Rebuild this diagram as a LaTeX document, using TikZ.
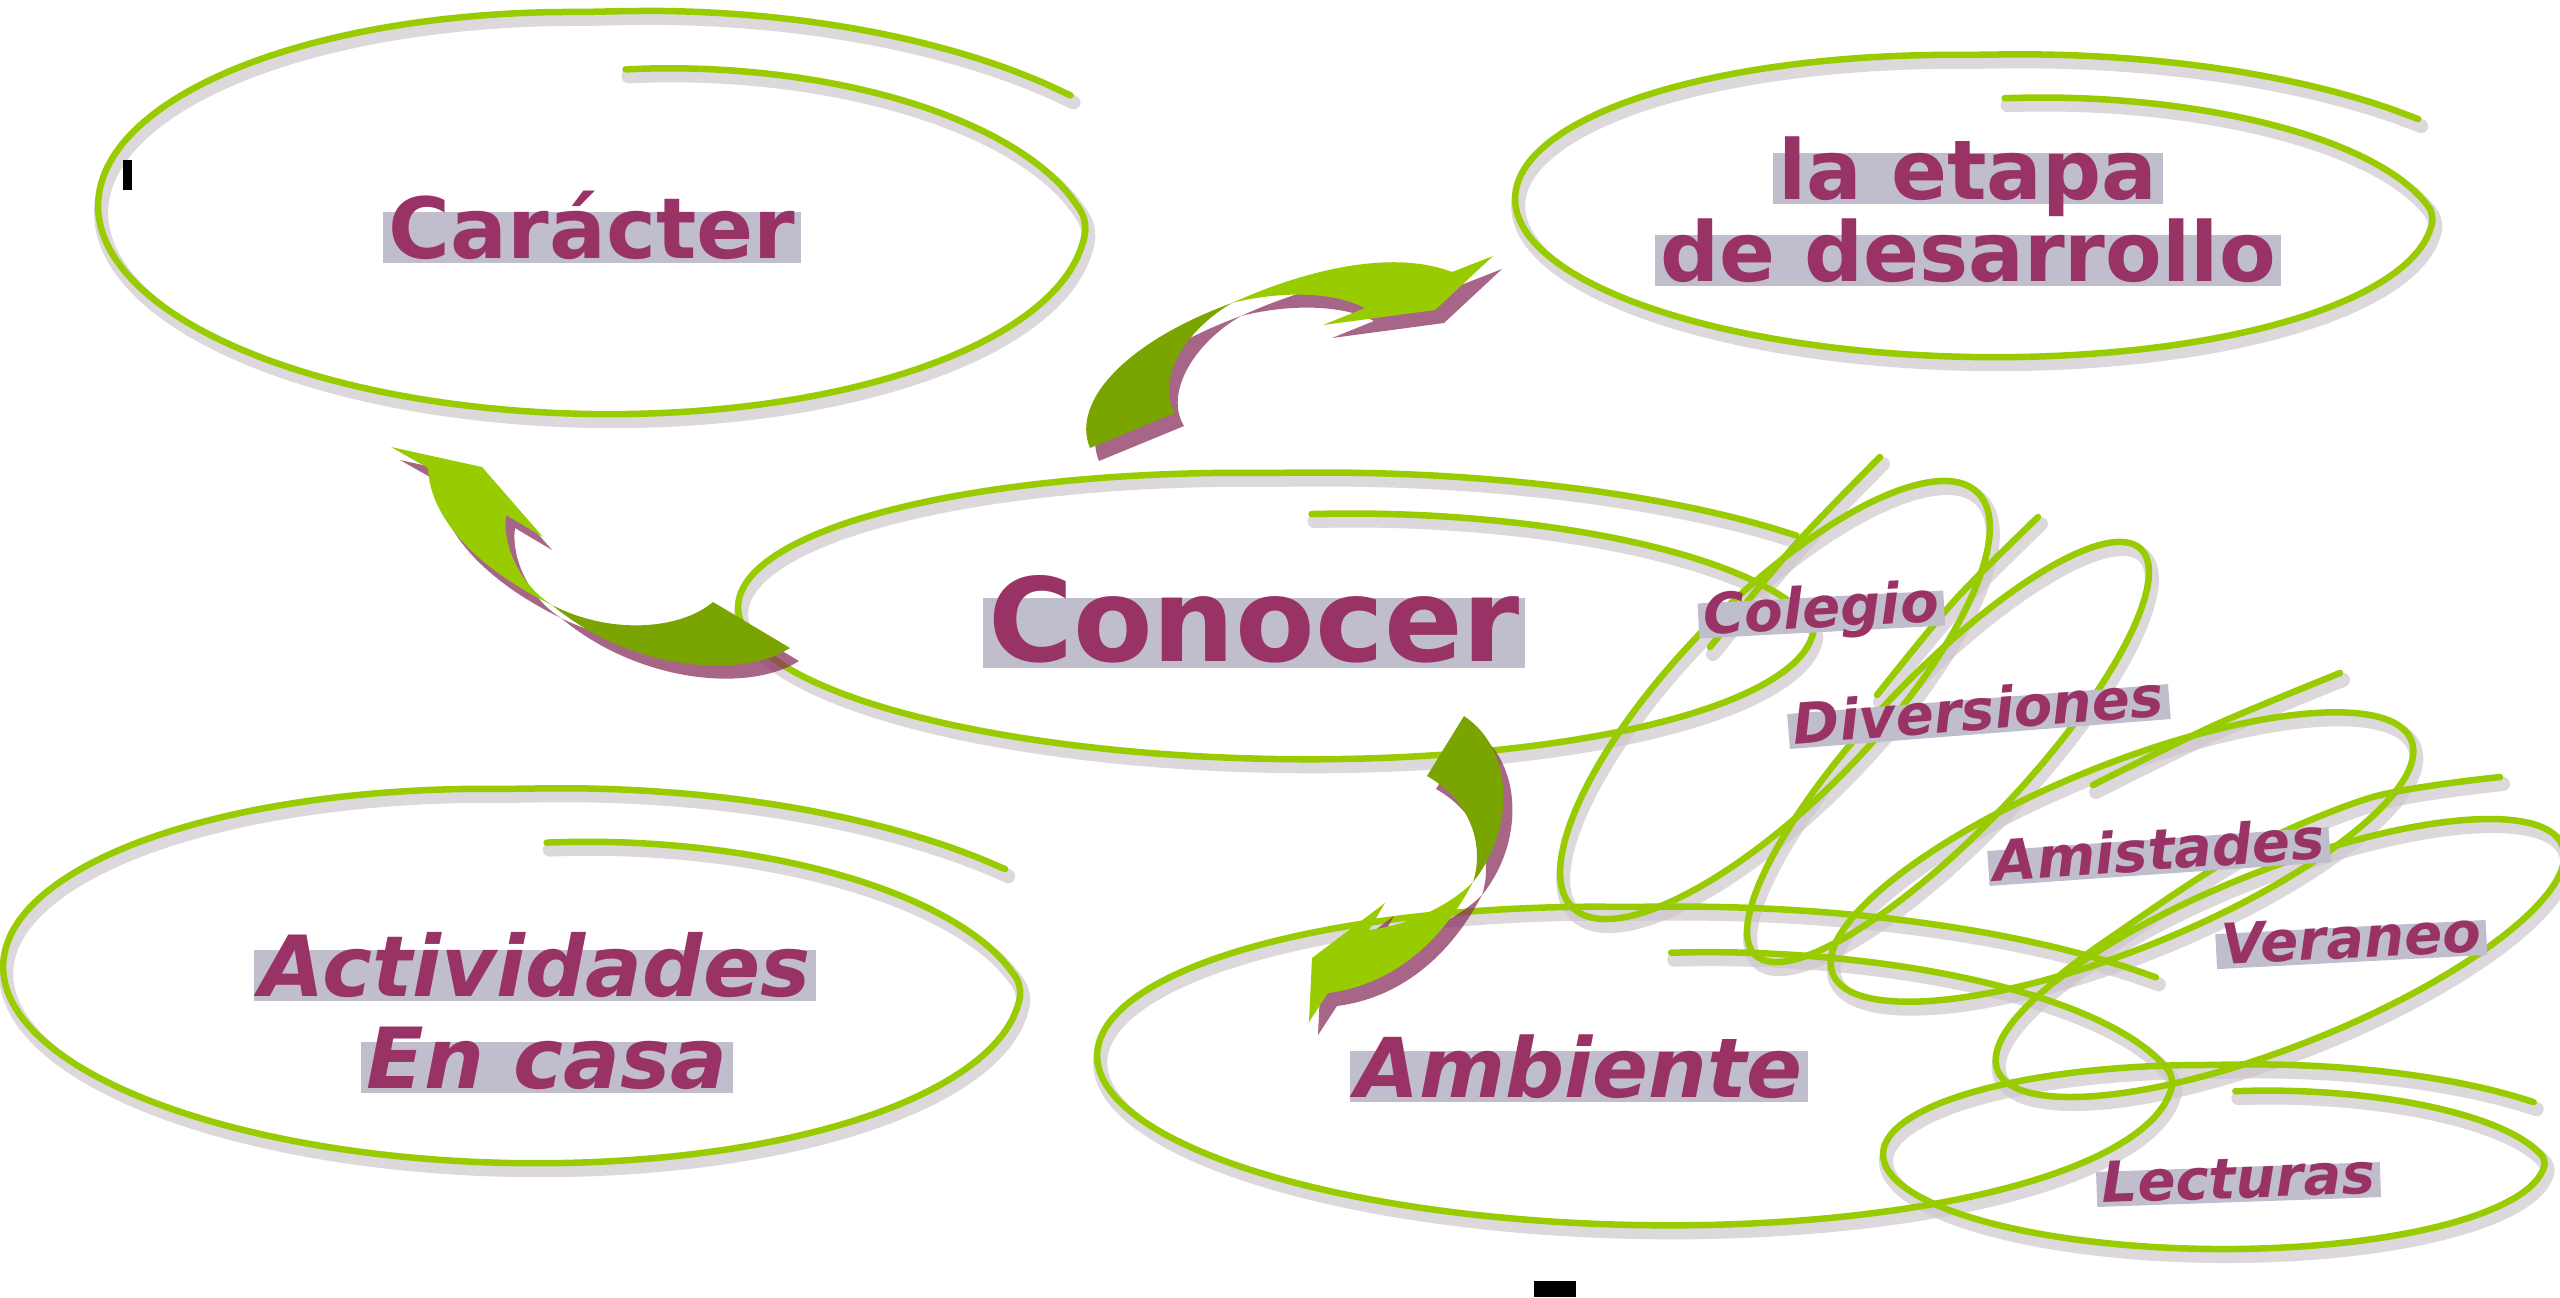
\documentclass[tikz,border=0pt]{standalone}
\usepackage{fontspec}
\setmainfont{DejaVu Sans}[BoldFont={DejaVu Sans Bold}, ItalicFont={DejaVu Sans Oblique}, BoldItalicFont={DejaVu Sans Bold Oblique}]

\definecolor{wordpurple}{RGB}{153,51,102}
\definecolor{leafgreen}{RGB}{153,204,0}
\definecolor{leafdark}{RGB}{122,164,0}
\definecolor{wordshade}{RGB}{192,189,205}
\definecolor{lineshade}{RGB}{206,200,206}
\definecolor{arrowshade}{RGB}{138,52,96}

\tikzset{
  loopline/.style={draw=leafgreen, line width=0.65mm, line cap=round, line join=round},
  loopshade/.style={draw=lineshade, line width=1.4mm, line cap=round, opacity=0.7, transform canvas={shift={(3,7)}}},
  leafshade/.style={fill=arrowshade, opacity=0.75, transform canvas={shift={(9,13)}}},
  word/.style={text=wordpurple, fill=wordshade, inner xsep=1.5pt, inner ysep=0pt, anchor=base},
  bigword/.style={word, font=\fontsize{24pt}{24pt}\selectfont\bfseries, text height=4.6mm, text depth=0.5mm},
  slantword/.style={bigword, font=\fontsize{24pt}{24pt}\selectfont\bfseries\itshape},
  smallword/.style={word, font=\fontsize{16pt}{16pt}\selectfont\bfseries\itshape, text height=3.1mm, text depth=0.4mm}
}

% one hand drawn loop: style, centre x, centre y, x radius, y radius, tilt
\newcommand\handloop[6]{%
  \draw[#1, rotate around={#6:(#2,#3)}] plot[domain=-85:327, samples=100, smooth]
    ({#2+#4*(1-0.28*max(0,-\x)/85+0.15*max(0,\x-270)/57)*cos(\x)},
     {#3+#5*(1-0.28*max(0,-\x)/85+0.15*max(0,\x-270)/57)*sin(\x)});
}

% all loops, drawn once as shadow and once in green
\newcommand\loopstrokes[1]{%
  \handloop{#1}{592}{213}{494}{201}{-1}
  \handloop{#1}{1974}{206}{459}{151}{-1}
  \handloop{#1}{1276}{616}{538}{143}{-1}
  \handloop{#1}{512}{976}{509}{187}{-1.2}
  \handloop{#1}{1635}{1066}{538}{159}{-1.2}
  \handloop{#1}{2214}{1157}{331}{92}{-0.5}
  % tilted loops
  \draw[#1, rotate around={45.7:(1775,700)}] (1775,700) ellipse [x radius=290, y radius=100];
  \draw[#1] plot[smooth] coordinates {(1880,457) (1795,545) (1710,647)};
  \draw[#1, rotate around={46.5:(1948,752)}] (1948,752) ellipse [x radius=280, y radius=78];
  \draw[#1] plot[smooth] coordinates {(2038,517) (1955,600) (1877,695)};
  \draw[#1, rotate around={22:(2122,857)}] (2122,857) ellipse [x radius=312, y radius=92];
  \draw[#1] plot[smooth] coordinates {(2340,673) (2215,725) (2093,785)};
  \draw[#1, rotate around={21.7:(2280,958)}] (2280,958) ellipse [x radius=304, y radius=88];
  \draw[#1] plot[smooth] coordinates {(2500,777) (2373,797) (2240,853) (2107,940) (2060,975)};
}

% twisted arrows
\newcommand\arrowshapes[2]{%
  \fill[#1] (1090,448) .. controls (1070,400) and (1130,340) .. (1232,303) .. controls (1185,330) and (1155,380) .. (1175,413) -- cycle;
  \fill[#2] (1232,303) .. controls (1300,272) and (1390,248) .. (1452,272) -- (1493,256) -- (1435,310) -- (1323,325) -- (1365,308) .. controls (1330,290) and (1275,292) .. (1232,303) -- cycle;
  \fill[#1] (552,605) .. controls (610,635) and (680,630) .. (713,602) -- (790,648) .. controls (740,680) and (630,670) .. (552,605) -- cycle;
  \fill[#2] (391,447) -- (482,467) -- (543,537) -- (506,515) .. controls (502,545) and (520,585) .. (552,605) .. controls (480,570) and (430,520) .. (428,468) -- cycle;
  \fill[#1] (1464,716) -- (1427,776) .. controls (1470,800) and (1485,845) .. (1473,882) .. controls (1515,830) and (1515,750) .. (1464,716) -- cycle;
  \fill[#2] (1473,882) .. controls (1440,945) and (1390,985) .. (1328,993) -- (1309,1022) -- (1312,958) -- (1385,903) -- (1369,930) .. controls (1410,925) and (1450,905) .. (1473,882) -- cycle;
}

\begin{document}
\begin{tikzpicture}[x=0.1mm, y=-0.1mm]
  \path[use as bounding box, fill=white] (0,0) rectangle (2560,1297);

%% loops
  \loopstrokes{loopshade}
  \loopstrokes{loopline}

%% arrows
  \arrowshapes{leafshade}{leafshade}
  \arrowshapes{fill=leafdark}{fill=leafgreen}

%% words
  \node[bigword] (caracter) at (592,258) {Carácter};
  \node[bigword, font=\fontsize{23.5pt}{23.5pt}\selectfont\bfseries] (etapa) at (1968,199) {la etapa};
  \node[bigword, font=\fontsize{23.5pt}{23.5pt}\selectfont\bfseries] (desarrollo) at (1968,281) {de desarrollo};
  \node[bigword, font=\fontsize{33pt}{33pt}\selectfont\bfseries, text height=6.3mm, text depth=0.7mm] (conocer) at (1254,661) {Conocer};
  \node[slantword] (actividades) at (535,996) {Actividades};
  \node[slantword] (encasa) at (547,1088) {En casa};
  \node[slantword, font=\fontsize{23.5pt}{23.5pt}\selectfont\bfseries\itshape] (ambiente) at (1579,1097) {Ambiente};
  \node[smallword, rotate=3] (colegio) at (1822,628) {Colegio};
  \node[smallword, rotate=4.5] (diversiones) at (1980,730) {Diversiones};
  \node[smallword, rotate=4] (amistades) at (2160,870) {Amistades};
  \node[smallword, rotate=3] (veraneo) at (2352,958) {Veraneo};
  \node[smallword, rotate=2] (lecturas) at (2239,1198) {Lecturas};

%% stray marks
  \fill (123,160) rectangle (132,190);
  \fill (1534,1281) rectangle (1576,1297);
\end{tikzpicture}
\end{document}
